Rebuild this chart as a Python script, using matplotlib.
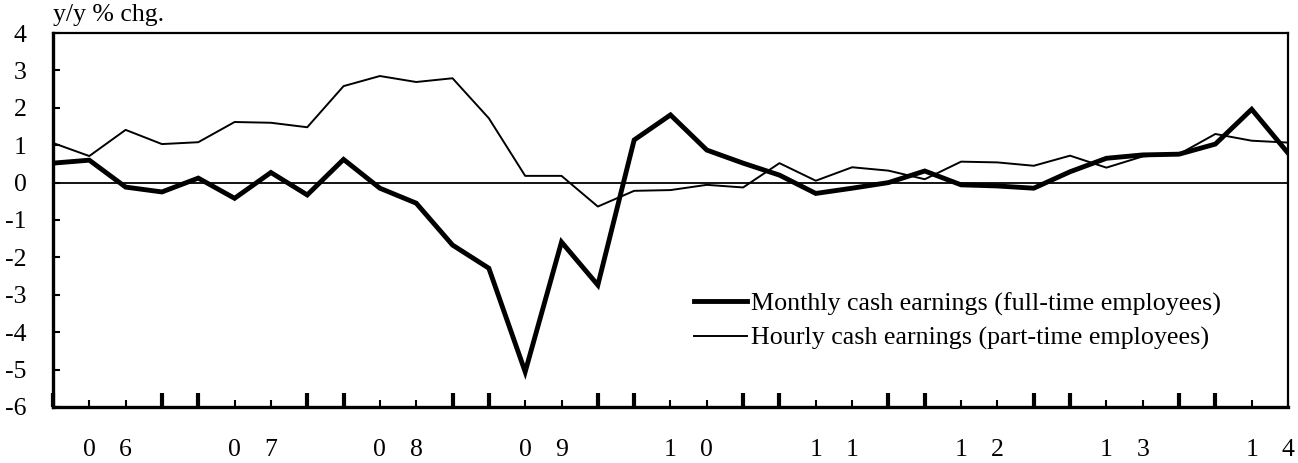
import numpy as np
import matplotlib.pyplot as plt

plt.rcParams['font.family'] = ['Liberation Serif', 'DejaVu Serif']

# quarterly, 2006 Q1 - 2014 Q3
years = ['06', '07', '08', '09', '10', '11', '12', '13', '14']
monthly_fulltime = [0.52, 0.60, -0.12, -0.25, 0.12, -0.42, 0.27, -0.33, 0.62, -0.15,
                    -0.55, -1.67, -2.29, -5.06, -1.59, -2.74, 1.14, 1.81, 0.87, 0.52,
                    0.20, -0.29, -0.15, 0.00, 0.31, -0.06, -0.09, -0.15, 0.29, 0.65,
                    0.74, 0.76, 1.03, 1.96, 0.79]
hourly_parttime = [1.06, 0.71, 1.41, 1.03, 1.08, 1.62, 1.60, 1.48, 2.58, 2.85,
                   2.69, 2.79, 1.72, 0.18, 0.18, -0.64, -0.22, -0.20, -0.06, -0.13,
                   0.52, 0.05, 0.41, 0.32, 0.09, 0.56, 0.54, 0.45, 0.72, 0.40,
                   0.70, 0.76, 1.30, 1.12, 1.07]

x = np.arange(len(monthly_fulltime))

fig = plt.figure(figsize=(12.98, 4.63), dpi=100)
ax = fig.add_axes([0.0408, 0.121, 0.9515, 0.8077])

ax.axhline(0, color='black', lw=1.3, zorder=1)
ax.plot(x, monthly_fulltime, color='black', lw=3.5, solid_joinstyle='miter',
        label='Monthly cash earnings (full-time employees)', zorder=3)
ax.plot(x, hourly_parttime, color='black', lw=1.4,
        label='Hourly cash earnings (part-time employees)', zorder=2)

ax.set_xlim(0, len(x) - 1)
ax.set_ylim(-6, 4)
ax.set_yticks(range(-6, 5))
ax.set_yticklabels([str(v) for v in range(-6, 5)])
ax.tick_params(axis='y', direction='in', length=5, width=1.5, pad=19, labelsize=18.5)

# thick ticks at Q4/Q1, thin ticks at Q2/Q3
major = [i for i in x if i % 4 in (0, 3)]
minor = [i for i in x if i % 4 in (1, 2)]
ax.set_xticks(major)
ax.set_xticks(minor, minor=True)
ax.set_xticklabels([])
ax.tick_params(axis='x', which='major', direction='in', length=10, width=3)
ax.tick_params(axis='x', which='minor', direction='in', length=5, width=1.5)

for s in ax.spines.values():
    s.set_linewidth(1.6)
ax.spines['left'].set_linewidth(2.4)
ax.spines['bottom'].set_linewidth(2.4)

# year labels, one digit per quarter tick
for k, yr in enumerate(years):
    for j, ch in enumerate(yr):
        ax.text(4 * k + 1 + j, -0.115, ch, transform=ax.get_xaxis_transform(),
                ha='center', va='center', fontsize=18.5)

fig.text(0.0405, 0.968, 'y/y % chg.', ha='left', va='center', fontsize=18.5)

ax.legend(loc='upper left', bbox_to_anchor=(0.5105, 0.335), frameon=False,
          fontsize=18.7, handlelength=2.05, handletextpad=0.15, labelspacing=0.42,
          borderaxespad=0)

fig.savefig('out.png', dpi=100)
